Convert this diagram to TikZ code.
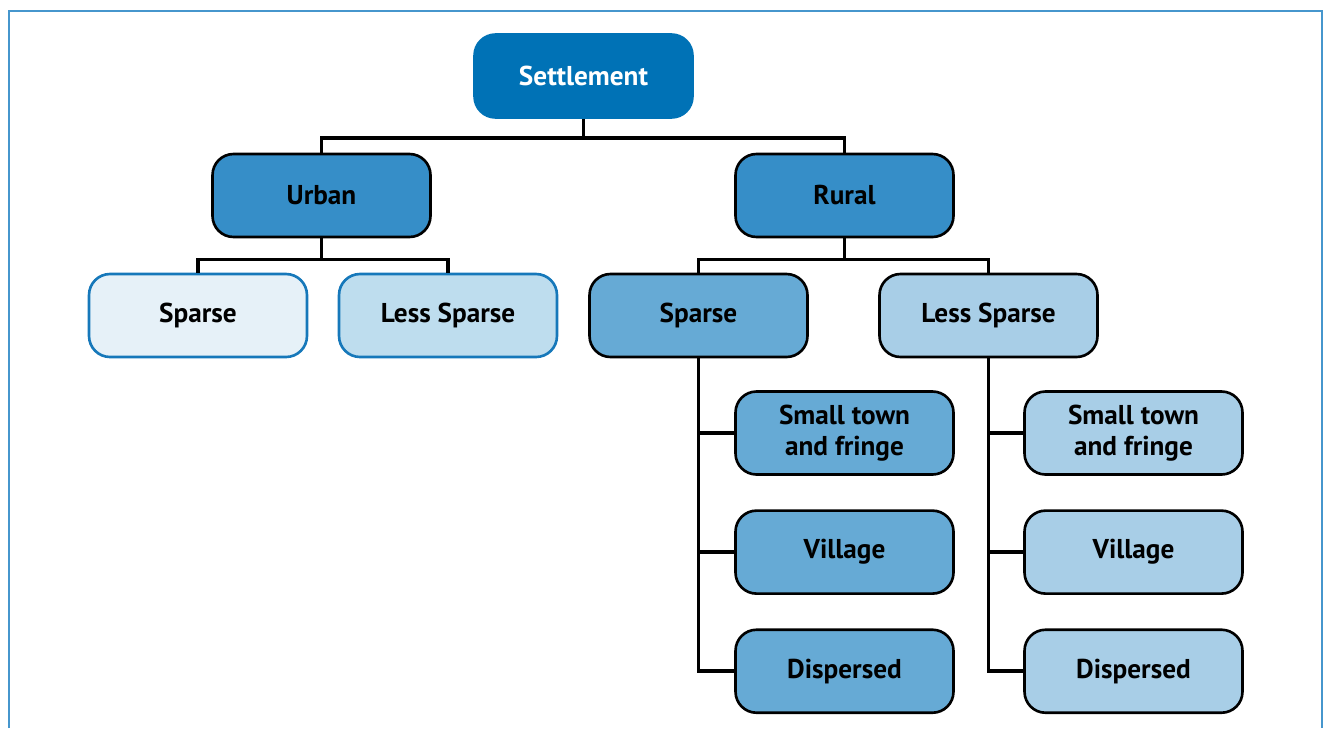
\documentclass[tikz,border=0pt]{standalone}
\usepackage{fontspec}
\setmainfont{PT Sans}
\usetikzlibrary{positioning}

\definecolor{topblue}{RGB}{0,114,182}
\definecolor{midblue}{RGB}{54,142,200}
\definecolor{sparseblue}{RGB}{102,170,213}
\definecolor{lessblue}{RGB}{168,206,231}
\definecolor{paleblue}{RGB}{230,241,248}
\definecolor{softblue}{RGB}{190,221,238}
\definecolor{edgeblue}{RGB}{22,120,186}
\definecolor{frameblue}{RGB}{70,150,205}

\begin{document}
\begin{tikzpicture}[
    x=0.02cm, y=-0.02cm,
    box/.style={draw=black, line width=1.5pt, rounded corners=0.42cm, minimum width=4.36cm, minimum height=1.66cm, align=center, font=\fontsize{15.5}{18}\selectfont\bfseries},
    link/.style={line width=2pt},
    node distance=0.67cm
]
\useasboundingbox (0,0) rectangle (1325,728);
\draw[frameblue, line width=1pt] (9,728) -- (9,11) -- (1322,11) -- (1322,728);

\node[box, draw=topblue, fill=topblue, text=white] (settle) at (583.5,76) {Settlement};

\node[box, fill=midblue] (urban) at (321.5,195.5) {Urban};
\node[box, fill=midblue] (rural) at (844.5,195.5) {Rural};

\node[box, draw=edgeblue, fill=paleblue] (usparse) at (198,315.5) {Sparse};
\node[box, draw=edgeblue, fill=softblue] (uless) at (448,315.5) {Less Sparse};
\node[box, fill=sparseblue] (rsparse) at (698.5,315.5) {Sparse};
\node[box, fill=lessblue] (rless) at (988.5,315.5) {Less Sparse};

\node[box, fill=sparseblue] (rstown) at (844.5,433) {Small town\\and fringe};
\node[box, fill=sparseblue, below=of rstown] (rsvillage) {Village};
\node[box, fill=sparseblue, below=of rsvillage] (rsdisp) {Dispersed};

\node[box, fill=lessblue] (rltown) at (1133.5,433) {Small town\\and fringe};
\node[box, fill=lessblue, below=of rltown] (rlvillage) {Village};
\node[box, fill=lessblue, below=of rlvillage] (rldisp) {Dispersed};

\draw[link] (settle.south) -- ++(0,19) -| (urban.north);
\draw[link] (settle.south) -- ++(0,19) -| (rural.north);
\draw[link] (urban.south) -- ++(0,21) -| (usparse.north);
\draw[link] (urban.south) -- ++(0,21) -| (uless.north);
\draw[link] (rural.south) -- ++(0,21) -| (rsparse.north);
\draw[link] (rural.south) -- ++(0,21) -| (rless.north);

\draw[link] (rsparse.south) |- (rstown.west);
\draw[link] (rsparse.south) |- (rsvillage.west);
\draw[link] (rsparse.south) |- (rsdisp.west);
\draw[link] (rless.south) |- (rltown.west);
\draw[link] (rless.south) |- (rlvillage.west);
\draw[link] (rless.south) |- (rldisp.west);

\end{tikzpicture}
\end{document}
